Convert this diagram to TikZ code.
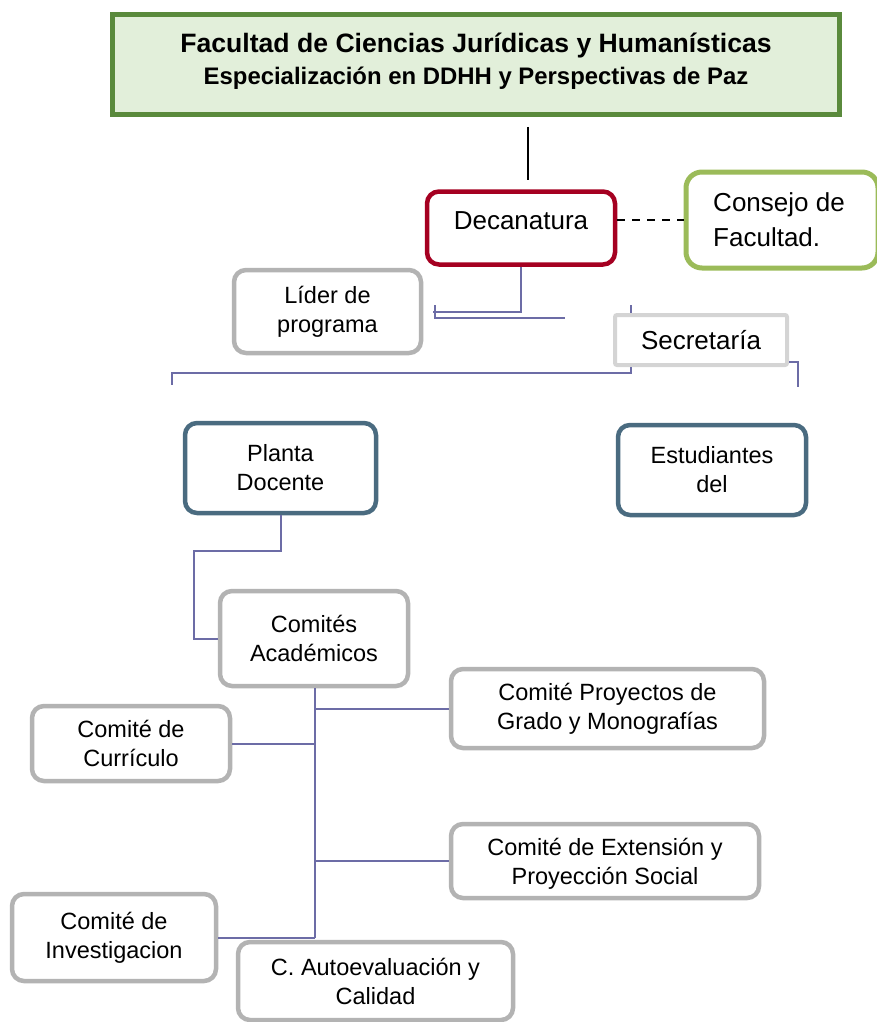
\documentclass[tikz,border=0pt]{standalone}
\usepackage{fontspec}
\setmainfont{Liberation Sans}
\usepackage{xcolor}
\definecolor{headfill}{HTML}{E2EFDA}
\definecolor{headdraw}{HTML}{5A8A3C}
\definecolor{decared}{HTML}{A50021}
\definecolor{consgreen}{HTML}{9BBB59}
\definecolor{boxgray}{HTML}{B3B3B3}
\definecolor{secgray}{HTML}{D4D4D4}
\definecolor{slate}{HTML}{4A6B80}
\definecolor{linkblue}{HTML}{6C6CA6}

\tikzset{
  orgbox/.style={draw, rounded corners=12pt, line width=4.5pt, fill=white, align=center,
    font=\fontsize{23.5}{29}\selectfont, inner sep=0pt},
  grisbox/.style={orgbox, draw=boxgray},
  azulbox/.style={orgbox, draw=slate},
  link/.style={draw=linkblue, line width=2pt},
}

\begin{document}
\begin{tikzpicture}[x=1pt,y=-1pt]
  \useasboundingbox (0,0) rectangle (877,1022);

  \node[draw=headdraw, fill=headfill, line width=5pt, minimum width=727, minimum height=100,
    align=center, font=\bfseries\fontsize{26.6}{32}\selectfont, text depth=12pt] (facultad) at (476,64.5)
    {Facultad de Ciencias Jurídicas y Humanísticas\\
     {\fontsize{23.9}{32}\selectfont Especialización en DDHH y Perspectivas de Paz}};

  \node[orgbox, draw=decared, minimum width=188, minimum height=73,
    font=\fontsize{26}{35}\selectfont, text depth=14pt] (deca) at (521,228) {Decanatura};
  \node[orgbox, draw=consgreen, line width=5pt, rounded corners=16pt, minimum width=192,
    minimum height=96, align=left, font=\fontsize{26}{35}\selectfont] (consejo) at (782,220)
    {\hspace*{-6pt}Consejo de\\\hspace*{-6pt}Facultad.};
  \node[grisbox, minimum width=187, minimum height=83] (lider) at (327.5,311.5) {Líder de\\programa};
  \node[orgbox, draw=secgray, rounded corners=2pt, line width=4pt, minimum width=172,
    minimum height=50, font=\fontsize{26}{35}\selectfont] (secre) at (701,340) {Secretaría};

  \node[azulbox, minimum width=191, minimum height=90] (planta) at (280.5,468) {Planta\\Docente};
  \node[azulbox, minimum width=188, minimum height=90] (estud) at (712,470) {Estudiantes\\del};

  \node[grisbox, minimum width=188, minimum height=95] (comites) at (314,638.5) {Comités\\Académicos};
  \node[grisbox, minimum width=313, minimum height=79] (proyectos) at (607.5,708.5)
    {Comité Proyectos de\\Grado y Monografías};
  \node[grisbox, minimum width=198, minimum height=75, text depth=0pt] (curriculo) at (131,743.5)
    {Comité de\\Currículo};
  \node[grisbox, minimum width=308, minimum height=74, text depth=0pt] (extension) at (605,861)
    {Comité de Extensión y\\Proyección Social};
  \node[grisbox, minimum width=204, minimum height=87] (investiga) at (114,937.5) {Comité de\\Investigacion};
  \node[grisbox, minimum width=275, minimum height=78] (autoeval) at (375.5,981)
    {C. Autoevaluación y\\Calidad};

  \coordinate (t1) at (528,127);
  \coordinate (t2) at (528,180);
  \draw[line width=2.5pt] (t1) -- (t2);
  \draw[line width=2.5pt, dash pattern=on 8pt off 7pt] (consejo.west -| deca.east) -- (consejo.west);

  \draw[link] (deca.south) |- ([xshift=10]lider.east);
  \coordinate (a1) at (435,305);
  \coordinate (a2) at (565,318);
  \draw[link] (a1) |- (a2);

  \coordinate (s1) at (631,305);
  \draw[link] (s1) -- (s1 |- secre.north);
  \coordinate (p1) at (172,385);
  \draw[link] (secre.south -| s1) |- ++(0,6) -| (p1);
  \coordinate (e1) at (798,387);
  \draw[link] ([yshift=-22]secre.east) -| (e1);

  \draw[link] (planta.south) -- ++(0,36) -| (194,600) |- (comites.west);

  \coordinate (tronco) at (315,688);
  \draw[link] (tronco) -- (tronco |- investiga.east);
  \draw[link] (tronco |- proyectos.west) -- (proyectos.west);
  \draw[link] (tronco |- curriculo.east) -- (curriculo.east);
  \draw[link] (tronco |- extension.west) -- (extension.west);
  \draw[link] (tronco |- investiga.east) -- (investiga.east);
\end{tikzpicture}
\end{document}
